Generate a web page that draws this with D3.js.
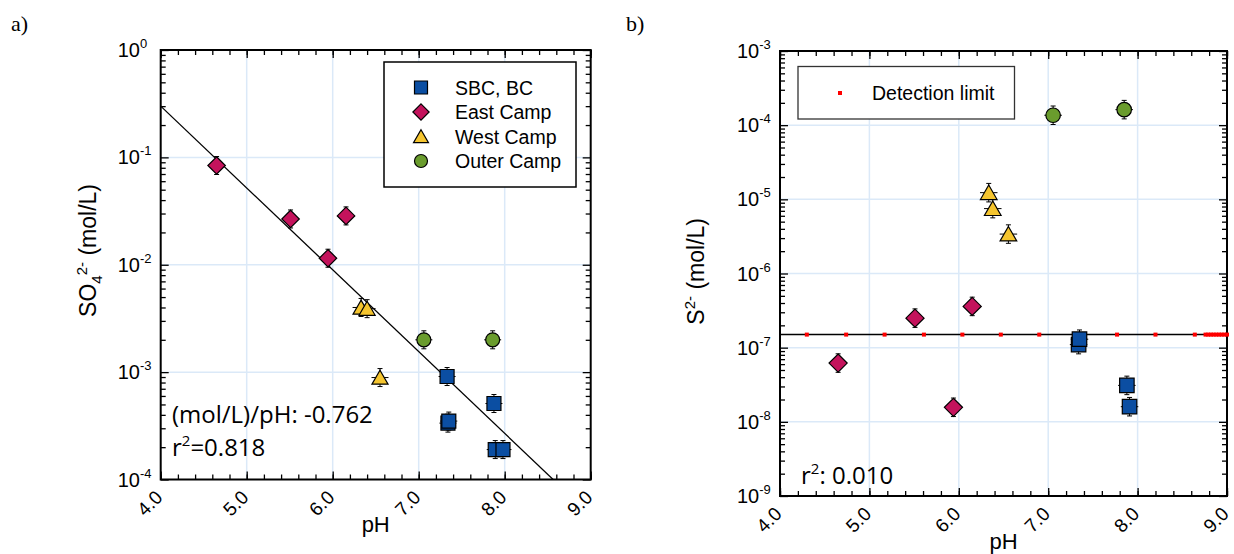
<!DOCTYPE html>
<html>
<head>
<meta charset="utf-8">
<script src="https://cdn.jsdelivr.net/npm/d3@7/dist/d3.min.js"></script>
<style>
  body { margin: 0; background: #fff; }
  svg { display: block; font-family: "Liberation Sans", Arial, sans-serif; }
</style>
</head>
<body>
<svg id="chart" width="1234" height="554"></svg>
<script>
// ---- data ----
const groupNames = ['SBC, BC', 'East Camp', 'West Camp', 'Outer Camp'];

// panel a) sulfate vs pH
const sbcPH_a   = [7.33, 7.34, 7.35, 7.875, 7.89, 7.98];
const sbcSO4    = [9.1e-4, 3.35e-4, 3.5e-4, 5.1e-4, 1.9e-4, 1.9e-4];
const eastPH_a  = [4.65, 5.51, 5.945, 6.155];
const eastSO4   = [0.084, 0.0267, 0.0115, 0.0285];
const westPH_a  = [6.33, 6.40, 6.55];
const westSO4   = [0.0040, 0.0039, 0.00089];
const outerPH_a = [7.06, 7.86];
const outerSO4  = [0.0020, 0.0020];
const fitSlope_a = -0.762;   // log10(mol/L) per pH
const fitAt4_a   = 0.30;     // fitted value at pH 4.0

// panel b) sulfide vs pH
const sbcPH_b   = [7.34, 7.35, 7.88, 7.91];
const sbcS      = [1.1e-7, 1.3e-7, 3.1e-8, 1.6e-8];
const eastPH_b  = [4.65, 5.51, 5.94, 6.15];
const eastS     = [6.2e-8, 2.5e-7, 1.57e-8, 3.6e-7];
const westPH_b  = [6.335, 6.38, 6.555];
const westS     = [1.23e-5, 7.5e-6, 3.4e-6];
const outerPH_b = [7.055, 7.85];
const outerS    = [1.36e-4, 1.62e-4];
const detectionLimit = 1.5e-7;
const detectionPH = [4.30, 4.74, 5.17, 5.61, 6.04, 6.47, 6.90, 7.34, 7.77, 8.20, 8.64,
                     8.76, 8.79, 8.82, 8.85, 8.88, 8.91, 8.94, 8.97, 9.00];

// axis ticks
const xMajor = [4, 5, 6, 7, 8, 9];
const xLabels = ['4.0', '5.0', '6.0', '7.0', '8.0', '9.0'];
const xMinor = d3.range(4, 9.001, 0.2);
const yDecades_a = [1e-4, 1e-3, 1e-2, 1e-1, 1];
const yDecades_b = [1e-9, 1e-8, 1e-7, 1e-6, 1e-5, 1e-4, 1e-3];

// ---- styles ----
const groupStyle = [
  {shape: 'square',   fill: '#0b4ea2'},
  {shape: 'diamond',  fill: '#c4135c'},
  {shape: 'triangle', fill: '#f5c52f'},
  {shape: 'circle',   fill: '#6a9c2d'}
];
const gridColor = '#dbe9f8';
const noteFont = '"Open Sans", sans-serif';

const svg = d3.select('#chart');

function shapePath(type, s) {
  const h = s / 2;
  if (type === 'square') return `M${-h},${-h}H${h}V${h}H${-h}Z`;
  if (type === 'diamond') { const d = h * 1.25; return `M0,${-d}L${d},0L0,${d}L${-d},0Z`; }
  if (type === 'triangle') { const w = h * 1.15; return `M0,${-h * 1.05}L${w},${h * 0.95}L${-w},${h * 0.95}Z`; }
  return d3.arc()({innerRadius: 0, outerRadius: h, startAngle: 0, endAngle: 2 * Math.PI});
}

function drawPanel(p) {
  const x = d3.scaleLinear().domain([4, 9]).range([p.left, p.right]);
  const y = d3.scaleLog().domain(p.yDomain).range([p.bottom, p.top]);
  const g = svg.append('g');
  const yAll = y.ticks();

  g.append('clipPath').attr('id', p.id + 'clip').append('rect')
    .attr('x', p.left).attr('y', p.top)
    .attr('width', p.right - p.left).attr('height', p.bottom - p.top);

  // grid lines
  g.append('g').selectAll('line').data(xMajor.slice(1, -1)).join('line')
    .attr('x1', d => x(d)).attr('x2', d => x(d))
    .attr('y1', p.top).attr('y2', p.bottom)
    .attr('stroke', gridColor).attr('stroke-width', 1.5);
  g.append('g').selectAll('line').data(p.decades.slice(1, -1)).join('line')
    .attr('x1', p.left).attr('x2', p.right)
    .attr('y1', d => y(d)).attr('y2', d => y(d))
    .attr('stroke', gridColor).attr('stroke-width', 1.5);

  // axes with inward ticks on all four sides
  const tickAxis = (axis, tr, vals, size) => {
    g.append('g').attr('transform', tr)
      .call(axis.tickValues(vals).tickSize(-size).tickSizeOuter(0).tickFormat(''))
      .call(a => a.select('.domain').remove())
      .call(a => a.selectAll('line').attr('stroke', '#000').attr('stroke-width', 1.3));
  };
  const minorY = yAll.filter(d => !p.decades.includes(d));
  tickAxis(d3.axisBottom(x), `translate(0,${p.bottom})`, xMinor, 5);
  tickAxis(d3.axisBottom(x), `translate(0,${p.bottom})`, xMajor, 8);
  tickAxis(d3.axisTop(x), `translate(0,${p.top})`, xMinor, 5);
  tickAxis(d3.axisTop(x), `translate(0,${p.top})`, xMajor, 8);
  tickAxis(d3.axisLeft(y), `translate(${p.left},0)`, minorY, 5);
  tickAxis(d3.axisLeft(y), `translate(${p.left},0)`, p.decades, 8);
  tickAxis(d3.axisRight(y), `translate(${p.right},0)`, minorY, 5);
  tickAxis(d3.axisRight(y), `translate(${p.right},0)`, p.decades, 8);

  g.append('rect')
    .attr('x', p.left).attr('y', p.top)
    .attr('width', p.right - p.left).attr('height', p.bottom - p.top)
    .attr('fill', 'none').attr('stroke', '#000').attr('stroke-width', 2);

  // tick labels
  g.append('g').selectAll('text').data(xMajor).join('text')
    .attr('transform', d => `translate(${x(d) + 3},${p.bottom + 19}) rotate(-45)`)
    .attr('text-anchor', 'end')
    .style('font-size', '19px')
    .text((d, i) => xLabels[i]);

  g.append('g').selectAll('text').data(p.decades).join('text')
    .attr('x', p.left - 43).attr('y', d => y(d) + 7)
    .style('font-size', '20px')
    .each(function (d) {
      const t = d3.select(this);
      t.append('tspan').text('10');
      t.append('tspan').attr('dy', -9).style('font-size', '13px')
        .text(Math.round(Math.log10(d)));
    });

  // x title
  g.append('text')
    .attr('x', (p.left + p.right) / 2).attr('y', p.xTitleY)
    .attr('text-anchor', 'middle').style('font-size', '22px')
    .text('pH');

  return {x, y, g};
}

function drawPoints(panel, groups, size) {
  const layer = panel.g.append('g');
  groups.forEach((grp, gi) => {
    const st = groupStyle[gi];
    const pts = grp.ph.map((ph, i) => ({ph, v: grp.v[i]}));
    const eb = layer.append('g').attr('stroke', '#000').attr('stroke-width', 1);
    pts.forEach(d => {
      const cx = panel.x(d.ph), cy = panel.y(d.v), e = size / 2 + 2;
      eb.append('line').attr('x1', cx).attr('x2', cx).attr('y1', cy - e).attr('y2', cy + e);
      eb.append('line').attr('x1', cx - 2.5).attr('x2', cx + 2.5).attr('y1', cy - e).attr('y2', cy - e);
      eb.append('line').attr('x1', cx - 2.5).attr('x2', cx + 2.5).attr('y1', cy + e).attr('y2', cy + e);
      eb.append('line').attr('x1', cx - e + 0.5).attr('x2', cx + e - 0.5).attr('y1', cy).attr('y2', cy);
    });
    layer.append('g').selectAll('path').data(pts).join('path')
      .attr('transform', d => `translate(${panel.x(d.ph)},${panel.y(d.v)})`)
      .attr('d', shapePath(st.shape, size))
      .attr('fill', st.fill).attr('stroke', '#000').attr('stroke-width', 1.2);
  });
}

// ---- panel a ----
const A = drawPanel({id: 'a', left: 160.7, right: 590.7, top: 50, bottom: 479.5,
  yDomain: [1e-4, 1], decades: yDecades_a, xTitleY: 532});

A.g.append('line')
  .attr('clip-path', 'url(#aclip)')
  .attr('x1', A.x(4)).attr('y1', A.y(fitAt4_a))
  .attr('x2', A.x(9)).attr('y2', A.y(fitAt4_a * Math.pow(10, fitSlope_a * 5)))
  .attr('stroke', '#000').attr('stroke-width', 1.3);

drawPoints(A, [
  {ph: sbcPH_a, v: sbcSO4}, {ph: eastPH_a, v: eastSO4},
  {ph: westPH_a, v: westSO4}, {ph: outerPH_a, v: outerSO4}
], 14);

A.g.append('text').attr('x', 172).attr('y', 423)
  .style('font-family', noteFont).style('font-size', '24px')
  .text('(mol/L)/pH: ' + fitSlope_a.toFixed(3));
const r2a = A.g.append('text').attr('x', 172).attr('y', 456)
  .style('font-family', noteFont).style('font-size', '24px');
r2a.append('tspan').text('r');
r2a.append('tspan').attr('dy', -10).style('font-size', '15px').text('2');
r2a.append('tspan').attr('dy', 10).text('=0.818');

A.g.append('text').attr('transform', 'translate(96,184) rotate(-90)')
  .attr('text-anchor', 'end').style('font-size', '23px')
  .call(t => {
    t.append('tspan').text('SO');
    t.append('tspan').attr('dy', 6).style('font-size', '15px').text('4');
    t.append('tspan').attr('dy', -15).style('font-size', '15px').text('2-');
    t.append('tspan').attr('dy', 9).text(' (mol/L)');
  });

// legend a
const legA = A.g.append('g');
legA.append('rect').attr('x', 384).attr('y', 62).attr('width', 192).attr('height', 125)
  .attr('fill', '#fff').attr('stroke', '#000').attr('stroke-width', 1.5);
groupNames.forEach((name, i) => {
  const ly = 87.5 + i * 24.5;
  legA.append('path').attr('transform', `translate(421,${ly})`)
    .attr('d', shapePath(groupStyle[i].shape, 13))
    .attr('fill', groupStyle[i].fill).attr('stroke', '#000').attr('stroke-width', 1.2);
  legA.append('text').attr('x', 455).attr('y', ly + 7).style('font-size', '19.5px').text(name);
});

// ---- panel b ----
const B = drawPanel({id: 'b', left: 780, right: 1227, top: 51, bottom: 496,
  yDomain: [1e-9, 1e-3], decades: yDecades_b, xTitleY: 549});

B.g.append('line')
  .attr('x1', B.x(4)).attr('x2', B.x(9))
  .attr('y1', B.y(detectionLimit)).attr('y2', B.y(detectionLimit))
  .attr('stroke', '#000').attr('stroke-width', 1.5);
B.g.append('g').selectAll('rect').data(detectionPH).join('rect')
  .attr('x', d => B.x(d) - 2).attr('y', B.y(detectionLimit) - 2)
  .attr('width', 4).attr('height', 4).attr('fill', '#ff0000');

drawPoints(B, [
  {ph: sbcPH_b, v: sbcS}, {ph: eastPH_b, v: eastS},
  {ph: westPH_b, v: westS}, {ph: outerPH_b, v: outerS}
], 14.5);

const r2b = B.g.append('text').attr('x', 801).attr('y', 484)
  .style('font-family', noteFont).style('font-size', '24px');
r2b.append('tspan').text('r');
r2b.append('tspan').attr('dy', -10).style('font-size', '15px').text('2');
r2b.append('tspan').attr('dy', 10).text(': 0.010');

B.g.append('text').attr('transform', 'translate(704,218) rotate(-90)')
  .attr('text-anchor', 'end').style('font-size', '23px')
  .call(t => {
    t.append('tspan').text('S');
    t.append('tspan').attr('dy', -9).style('font-size', '15px').text('2-');
    t.append('tspan').attr('dy', 9).text(' (mol/L)');
  });

// legend b
const legB = B.g.append('g');
legB.append('rect').attr('x', 798).attr('y', 66.5).attr('width', 216.5).attr('height', 52.5)
  .attr('fill', '#fff').attr('stroke', '#333').attr('stroke-width', 1.3);
legB.append('rect').attr('x', 838).attr('y', 91).attr('width', 4).attr('height', 4).attr('fill', '#ff0000');
legB.append('text').attr('x', 872).attr('y', 100).style('font-size', '19.5px').text('Detection limit');

// panel letters
svg.append('text').attr('x', 11).attr('y', 31)
  .style('font-family', '"Liberation Serif", "Times New Roman", serif').style('font-size', '22px').text('a)');
svg.append('text').attr('x', 626).attr('y', 31)
  .style('font-family', '"Liberation Serif", "Times New Roman", serif').style('font-size', '22px').text('b)');
</script>
</body>
</html>
